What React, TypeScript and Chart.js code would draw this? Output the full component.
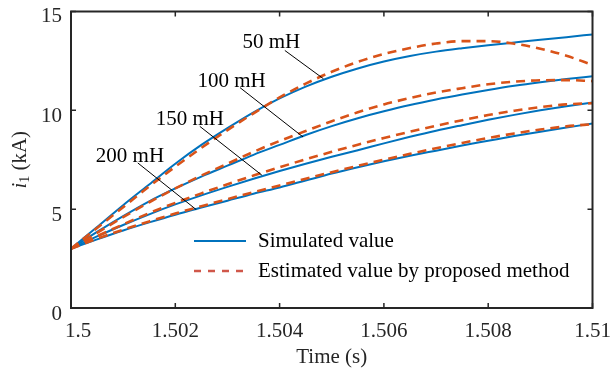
import React, { useEffect, useRef } from 'react';
import { Chart, registerables } from 'chart.js';
Chart.register(...registerables);

const times = [1.5, 1.5005, 1.501, 1.5015, 1.502, 1.5025, 1.503, 1.5035, 1.504, 1.5045, 1.505, 1.5055, 1.506, 1.5065, 1.507, 1.5075, 1.508, 1.5085, 1.509, 1.5095, 1.51];
const sim50 = [3.0, 4.1, 5.2, 6.25, 7.3, 8.25, 9.1, 9.9, 10.6, 11.2, 11.7, 12.12, 12.47, 12.75, 12.97, 13.14, 13.29, 13.43, 13.57, 13.7, 13.84];
const est50 = [3.0, 4.05, 5.1, 6.15, 7.15, 8.1, 9.0, 9.85, 10.65, 11.35, 11.95, 12.45, 12.85, 13.15, 13.38, 13.5, 13.5, 13.37, 13.12, 12.76, 12.3];
const sim100 = [3.0, 3.85, 4.65, 5.4, 6.05, 6.65, 7.2, 7.75, 8.25, 8.75, 9.2, 9.6, 9.95, 10.27, 10.55, 10.8, 11.03, 11.24, 11.42, 11.58, 11.72];
const est100 = [3.0, 3.8, 4.6, 5.35, 6.05, 6.7, 7.3, 7.9, 8.45, 8.95, 9.45, 9.9, 10.3, 10.62, 10.9, 11.12, 11.32, 11.45, 11.52, 11.53, 11.48];
const sim150 = [3.0, 3.62, 4.2, 4.74, 5.24, 5.7, 6.13, 6.54, 6.93, 7.3, 7.65, 7.98, 8.33, 8.66, 8.97, 9.25, 9.52, 9.77, 10.0, 10.21, 10.4];
const est150 = [3.0, 3.63, 4.23, 4.8, 5.32, 5.8, 6.26, 6.7, 7.12, 7.52, 7.9, 8.26, 8.6, 8.92, 9.22, 9.5, 9.76, 9.98, 10.16, 10.3, 10.36];
const sim200 = [3.0, 3.47, 3.92, 4.33, 4.72, 5.08, 5.43, 5.78, 6.1, 6.45, 6.8, 7.12, 7.42, 7.7, 7.96, 8.22, 8.46, 8.7, 8.92, 9.13, 9.33];
const est200 = [3.0, 3.5, 3.96, 4.38, 4.78, 5.15, 5.51, 5.86, 6.2, 6.54, 6.87, 7.19, 7.5, 7.8, 8.08, 8.35, 8.6, 8.83, 9.03, 9.19, 9.3];

const xTicks = [1.5, 1.502, 1.504, 1.506, 1.508, 1.51];
const xTickLabels = ['1.5', '1.502', '1.504', '1.506', '1.508', '1.51'];
const yTicks = [0, 5, 10, 15];
const yTickLabels = ['0', '5', '10', '15'];

const labelText = ['50 mH', '100 mH', '150 mH', '200 mH'];
const labelX = [1.50384, 1.50308, 1.50228, 1.50113];
const labelY = [13.13, 11.19, 9.24, 7.37];
const pointerFromX = [1.5041, 1.50324, 1.50247, 1.50128];
const pointerFromY = [13.03, 11.15, 9.19, 7.34];
const pointerToX = [1.50484, 1.50445, 1.50366, 1.5024];
const pointerToY = [11.6, 8.65, 6.72, 4.98];

const legendLabels = ['Simulated value', 'Estimated value by proposed method'];

const BLUE = '#0072BD';
const RED = '#D95319';
const FONT = '"Liberation Serif", "Times New Roman", serif';
const FS = 21;

const pts = (ys: number[]) => times.map((t, i) => ({ x: t, y: ys[i] }));

const zeroPad = (s: any) => {
  s.paddingLeft = 0;
  s.paddingRight = 0;
  s.paddingTop = 0;
  s.paddingBottom = 0;
};

const overlay = {
  id: 'overlay',
  afterDraw(chart: any) {
    const { ctx, chartArea: a, scales } = chart;
    const xs = scales.x;
    const ys = scales.y;
    ctx.save();
    // box
    ctx.strokeStyle = '#262626';
    ctx.lineWidth = 2;
    ctx.strokeRect(a.left, a.top, a.right - a.left, a.bottom - a.top);
    // inward ticks
    ctx.lineWidth = 1.5;
    const tl = 5;
    xTicks.forEach((v) => {
      const px = xs.getPixelForValue(v);
      ctx.beginPath();
      ctx.moveTo(px, a.bottom);
      ctx.lineTo(px, a.bottom - tl);
      ctx.moveTo(px, a.top);
      ctx.lineTo(px, a.top + tl);
      ctx.stroke();
    });
    yTicks.forEach((v) => {
      const py = ys.getPixelForValue(v);
      ctx.beginPath();
      ctx.moveTo(a.left, py);
      ctx.lineTo(a.left + tl, py);
      ctx.moveTo(a.right, py);
      ctx.lineTo(a.right - tl, py);
      ctx.stroke();
    });
    // tick labels
    ctx.fillStyle = '#262626';
    ctx.font = `${FS}px ${FONT}`;
    ctx.textBaseline = 'alphabetic';
    xTicks.forEach((v, i) => {
      const px = xs.getPixelForValue(v);
      if (i === 0) {
        ctx.textAlign = 'left';
        ctx.fillText(xTickLabels[i], px - 6, a.bottom + 29);
      } else {
        ctx.textAlign = 'center';
        ctx.fillText(xTickLabels[i], px, a.bottom + 29);
      }
    });
    ctx.textAlign = 'right';
    yTicks.forEach((v, i) => {
      const py = ys.getPixelForValue(v);
      const off = i === yTicks.length - 1 ? 10 : 11.5;
      ctx.fillText(yTickLabels[i], a.left - 9, py + off);
    });
    // annotations
    ctx.strokeStyle = '#000';
    ctx.lineWidth = 1;
    ctx.fillStyle = '#000';
    ctx.font = `${FS}px ${FONT}`;
    ctx.textAlign = 'center';
    ctx.textBaseline = 'alphabetic';
    labelText.forEach((txt, i) => {
      ctx.beginPath();
      ctx.moveTo(xs.getPixelForValue(pointerFromX[i]), ys.getPixelForValue(pointerFromY[i]));
      ctx.lineTo(xs.getPixelForValue(pointerToX[i]), ys.getPixelForValue(pointerToY[i]));
      ctx.stroke();
      ctx.fillText(txt, xs.getPixelForValue(labelX[i]), ys.getPixelForValue(labelY[i]));
    });
    // legend
    const lx = a.left + 123;
    const ly1 = a.bottom - 67;
    const ly2 = a.bottom - 37;
    ctx.lineWidth = 2;
    ctx.strokeStyle = BLUE;
    ctx.beginPath();
    ctx.moveTo(lx, ly1);
    ctx.lineTo(lx + 52, ly1);
    ctx.stroke();
    ctx.strokeStyle = '#D0574A';
    ctx.lineWidth = 2.5;
    ctx.setLineDash([7, 7]);
    ctx.beginPath();
    ctx.moveTo(lx, ly2);
    ctx.lineTo(lx + 52, ly2);
    ctx.stroke();
    ctx.setLineDash([]);
    ctx.fillStyle = '#000';
    ctx.textAlign = 'left';
    ctx.textBaseline = 'middle';
    ctx.fillText(legendLabels[0], lx + 64, ly1);
    ctx.fillText(legendLabels[1], lx + 64, ly2);
    // axis titles
    ctx.fillStyle = '#262626';
    ctx.textAlign = 'center';
    ctx.textBaseline = 'middle';
    ctx.fillText('Time (s)', (a.left + a.right) / 2, 357);
    // y title: i1 (kA)
    ctx.save();
    ctx.translate(20, (a.top + a.bottom) / 2);
    ctx.rotate(-Math.PI / 2);
    ctx.textAlign = 'left';
    ctx.textBaseline = 'middle';
    ctx.font = `italic ${FS}px ${FONT}`;
    const wI = ctx.measureText('i').width;
    ctx.font = `14px ${FONT}`;
    const w1 = ctx.measureText('1').width;
    ctx.font = `${FS}px ${FONT}`;
    const wR = ctx.measureText(' (kA)').width;
    const total = wI + w1 + wR;
    let cx = -total / 2;
    ctx.font = `italic ${FS}px ${FONT}`;
    ctx.fillText('i', cx, 0);
    cx += wI;
    ctx.font = `14px ${FONT}`;
    ctx.fillText('1', cx, 5);
    cx += w1;
    ctx.font = `${FS}px ${FONT}`;
    ctx.fillText(' (kA)', cx, 0);
    ctx.restore();
    ctx.restore();
  },
};

export default function App() {
  const ref = useRef<HTMLCanvasElement | null>(null);
  useEffect(() => {
    if (!ref.current) return;
    Chart.defaults.font.family = FONT;
    const line = (data: number[], color: string, dashed: boolean, order: number) => ({
      data: pts(data),
      borderColor: color,
      backgroundColor: color,
      borderWidth: dashed ? 2.6 : 2,
      borderDash: dashed ? [9, 6] : [],
      pointRadius: 0,
      fill: false,
      cubicInterpolationMode: 'monotone' as const,
      order,
    });
    const chart = new Chart(ref.current, {
      type: 'line',
      data: {
        datasets: [
          line(sim50, BLUE, false, 2),
          line(sim100, BLUE, false, 2),
          line(sim150, BLUE, false, 2),
          line(sim200, BLUE, false, 2),
          line(est50, RED, true, 1),
          line(est100, RED, true, 1),
          line(est150, RED, true, 1),
          line(est200, RED, true, 1),
        ],
      },
      options: {
        animation: false,
        responsive: true,
        maintainAspectRatio: false,
        layout: { padding: { left: 0, top: 11.5, right: 19.5, bottom: 0 } },
        plugins: { legend: { display: false }, tooltip: { enabled: false } },
        scales: {
          x: {
            type: 'linear',
            min: 1.5,
            max: 1.51,
            afterBuildTicks: (s: any) => {
              s.ticks = xTicks.map((v) => ({ value: v }));
            },
            afterFit: (s: any) => {
              s.height = 65;
              zeroPad(s);
            },
            grid: { display: false, drawTicks: false },
            border: { display: false },
            ticks: { display: false },
          },
          y: {
            type: 'linear',
            min: 0,
            max: 15,
            afterBuildTicks: (s: any) => {
              s.ticks = yTicks.map((v) => ({ value: v }));
            },
            afterFit: (s: any) => {
              s.width = 71;
              zeroPad(s);
            },
            grid: { display: false, drawTicks: false },
            border: { display: false },
            ticks: { display: false },
          },
        },
      },
      plugins: [overlay],
    });
    return () => chart.destroy();
  }, []);
  return (
    <div style={{ position: 'fixed', left: 0, top: 0, width: 612, height: 373, background: '#fff' }}>
      <canvas ref={ref} />
    </div>
  );
}
